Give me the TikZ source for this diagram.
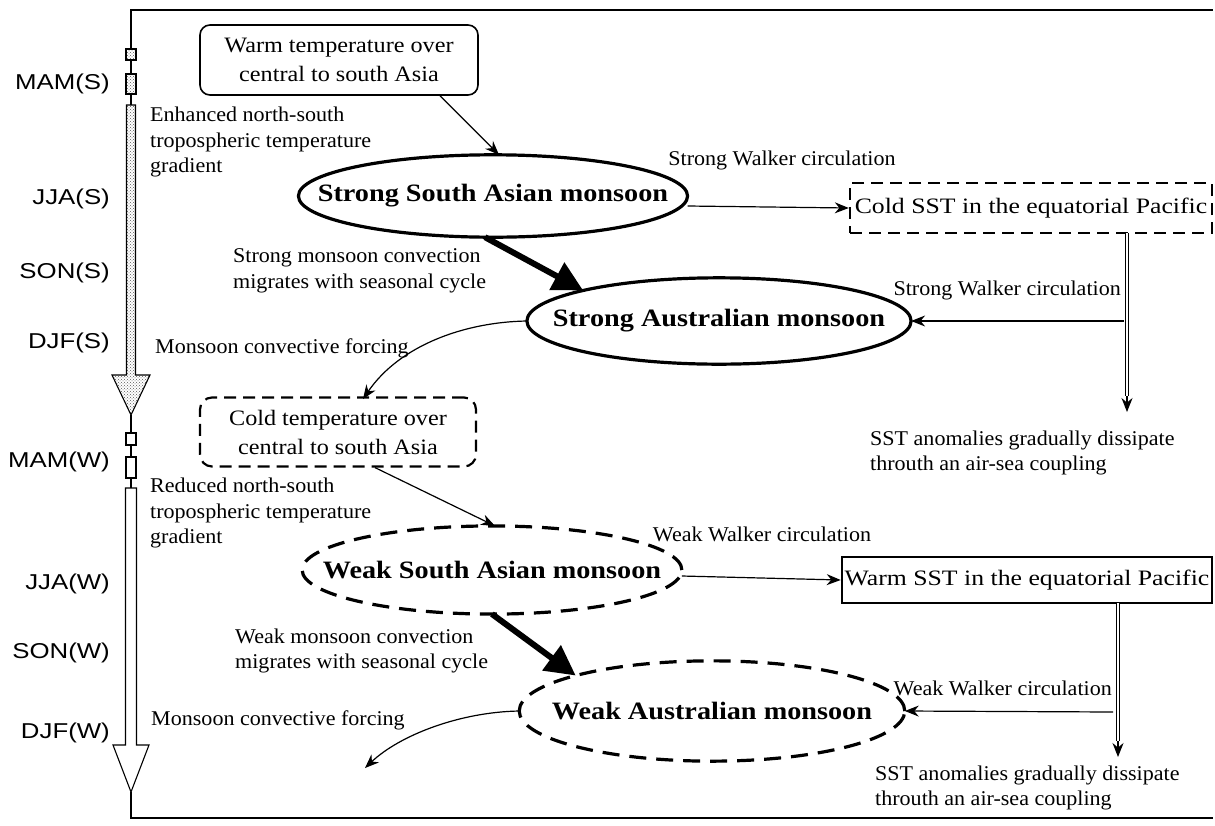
\documentclass[tikz,border=0pt]{standalone}
\usepackage{fontspec}
\setmainfont{Liberation Serif}
\newfontfamily\lblfont[FakeStretch=1.05]{Liberation Serif}
\newfontfamily\boxfont[FakeStretch=1.17]{Liberation Serif}
\newfontfamily\tempfont[FakeStretch=1.1]{Liberation Serif}
\newfontfamily\ellfont[FakeStretch=1.13]{Liberation Serif Bold}
\newfontfamily\seasfont[FakeStretch=1.2]{Liberation Sans}
\usetikzlibrary{arrows.meta,shapes.geometric,patterns}
\begin{document}
\begin{tikzpicture}[x=1pt,y=-1pt,
 lbl/.style={inner sep=0pt, align=left, font=\lblfont\fontsize{21}{25.5}\selectfont},
 seas/.style={inner sep=0pt, anchor=east, font=\seasfont\fontsize{21.5}{25}\selectfont},
 boxtxt/.style={inner sep=0pt, align=center, font=\boxfont\fontsize{22}{30}\selectfont},
 temptxt/.style={inner sep=0pt, align=center, font=\tempfont\fontsize{22}{29}\selectfont},
 ell/.style={ellipse, draw, line width=3.2pt, outer sep=0pt, font=\ellfont\fontsize{25}{30}\selectfont},
 dashell/.style={ell, dash pattern=on 17pt off 10pt},
 dashbox/.style={draw, dash pattern=on 12pt off 7pt, line width=2.4pt},
 arr/.style={line width=1.2pt, -{Stealth[length=14pt,width=11pt]}},
 bigarr/.style={line width=6pt, -{Triangle[length=30pt,width=30pt]}},
 dbl/.style={double, double distance=2.6pt, line width=0.9pt},
 tl/.style={line width=1.1pt},
 dots/.style={tl, pattern=crosshatch dots, pattern color=black!65},
]
\useasboundingbox (0,0) rectangle (1215,825);
\fill[white] (0,0) rectangle (1215,825);

% timeline and frame
\draw[tl] (131,49) -- (131,10) -- (1213,10);
\draw[dots] (126,49) rectangle (136,60);
\draw[tl] (131,60) -- (131,74);
\draw[dots] (126,74) rectangle (136,94);
\draw[tl] (131,94) -- (131,105);
\draw[dots] (126.5,105) -- (135.5,105) -- (135.5,375) -- (150,375) -- (131,415) -- (112,375) -- (126.5,375) -- cycle;
\draw[tl] (131,415) -- (131,433);
\draw[tl,fill=white] (126,433) rectangle (136,445);
\draw[tl] (131,445) -- (131,457);
\draw[tl,fill=white] (126,457) rectangle (136,478);
\draw[tl] (131,478) -- (131,488);
\draw[tl,fill=white] (125.5,488) -- (136.5,488) -- (136.5,745) -- (149,745) -- (131,792) -- (113,745) -- (125.5,745) -- cycle;
\draw[tl] (131,792) -- (131,818) -- (1213,818);

% season labels
\node[seas] (s1) at (110,84) {MAM(S)};
\node[seas] (s2) at (110,199) {JJA(S)};
\node[seas] (s3) at (110,273) {SON(S)};
\node[seas] (s4) at (110,343) {DJF(S)};
\node[seas] (s5) at (110,462) {MAM(W)};
\node[seas] (s6) at (110,584) {JJA(W)};
\node[seas] (s7) at (110,653) {SON(W)};
\node[seas] (s8) at (110,733) {DJF(W)};

% main nodes
\node[draw, rounded corners=10pt, line width=1.6pt, minimum width=278pt, minimum height=70pt, temptxt] (warm) at (339,60) {Warm temperature over\\central to south Asia};
\node[ell, inner xsep=-37.6pt, inner ysep=17.7pt] (ssa) at (493,196) {Strong South Asian monsoon};
\node[dashbox, minimum width=362pt, minimum height=50pt, boxtxt] (csst) at (1031,208) {Cold SST in the equatorial Pacific};
\node[ell, inner xsep=-30.3pt, inner ysep=19.1pt] (sau) at (719,321) {Strong Australian monsoon};
\node[dashbox, rounded corners=12pt, line width=2.2pt, minimum width=276pt, minimum height=69pt, temptxt] (cold) at (338,432) {Cold temperature over\\central to south Asia};
\node[dashell, inner xsep=-34.9pt, inner ysep=22.3pt] (wsa) at (492,570) {Weak South Asian monsoon};
\node[draw, line width=2.6pt, minimum width=370pt, minimum height=46pt, boxtxt] (wsst) at (1027,580) {Warm SST in the equatorial Pacific};
\node[dashell, inner xsep=-23.8pt, inner ysep=26.6pt] (wau) at (712,711) {Weak Australian monsoon};

% helper coordinates
\coordinate (d1t) at (1127,233);
\coordinate (d1m) at (1127,396);
\coordinate (d1b) at (1127,412);
\coordinate (w1) at (1124,321);
\coordinate (d2t) at (1118,603);
\coordinate (d2m) at (1118,741);
\coordinate (d2b) at (1118,757);
\coordinate (w2) at (1113,712);
\coordinate (c1) at (363,399);
\coordinate (c2) at (365,768);

% connectors
\draw[arr] (440,0 |- warm.south) -- ([xshift=6pt]ssa.north);
\draw[arr] ([yshift=-10pt]ssa.east) -- (csst.west);
\draw[dbl] (d1t) -- (d1m);
\draw[arr] (d1m) -- (d1b);
\draw[arr] (w1) -- (sau.east);
\draw[bigarr] ([xshift=-8pt]ssa.south) -- (sau.north west);
\draw[arr] (sau.west) .. controls (465,322) and (400,345) .. (c1);
\draw[arr] (375,0 |- cold.south) -- ([xshift=3pt]wsa.north);
\draw[arr] ([yshift=-6pt]wsa.east) -- (wsst.west);
\draw[dbl] (d2t) -- (d2m);
\draw[arr] (d2m) -- (d2b);
\draw[arr] (w2) -- (wau.east);
\draw[bigarr] (wsa.south) -- (wau.north west);
\draw[arr] (wau.west) .. controls (460,712) and (400,735) .. (c2);

% labels
\node[lbl, anchor=west] (l1) at (150,142) {Enhanced north-south\\tropospheric temperature\\gradient};
\node[lbl] (l2) at (782,160) {Strong Walker circulation};
\node[lbl, anchor=west] (l3) at (233,271) {Strong monsoon convection\\migrates with seasonal cycle};
\node[lbl] (l4) at (282,348) {Monsoon convective forcing};
\node[lbl, anchor=east] (l5) at (1121,290) {Strong Walker circulation};
\node[lbl, anchor=west] (l6) at (870,453) {SST anomalies gradually dissipate\\throuth an air-sea coupling};
\node[lbl, anchor=west] (l7) at (150,513) {Reduced north-south\\tropospheric temperature\\gradient};
\node[lbl] (l8) at (762,534) {Weak Walker circulation};
\node[lbl, anchor=west] (l9) at (235,651) {Weak monsoon convection\\migrates with seasonal cycle};
\node[lbl, anchor=east] (l10) at (1112,688) {Weak Walker circulation};
\node[lbl] (l11) at (278,720) {Monsoon convective forcing};
\node[lbl, anchor=west] (l12) at (875,788) {SST anomalies gradually dissipate\\throuth an air-sea coupling};
\end{tikzpicture}
\end{document}
